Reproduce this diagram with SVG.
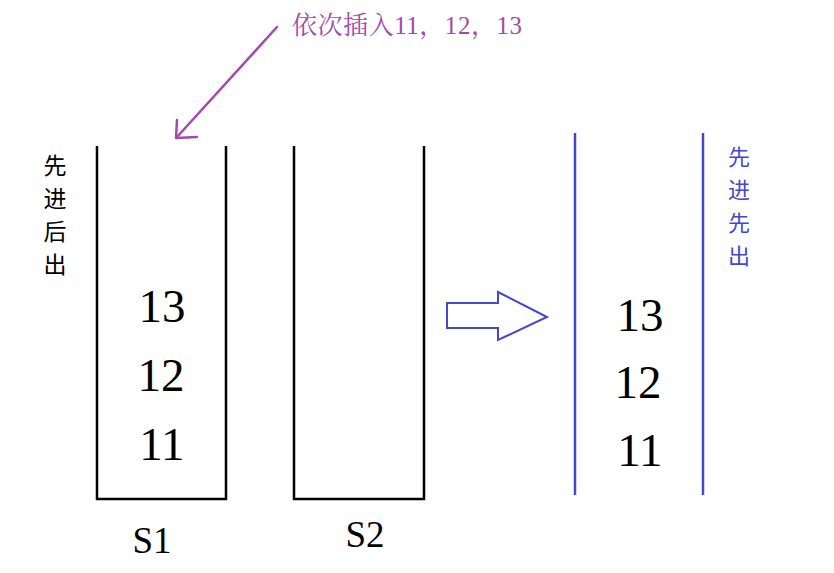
<svg xmlns="http://www.w3.org/2000/svg" width="834" height="573" viewBox="0 0 834 573">
<style>
.stack{fill:none;stroke:#000;stroke-width:2.5}
.q{stroke:#4347D2;stroke-width:2.5}
.num{font-family:"Liberation Serif",serif;font-size:47px;fill:#000;text-anchor:middle}
.lbl{font-family:"Liberation Serif",serif;font-size:37px;fill:#000;text-anchor:middle}
.cjk{font-family:"Noto Sans CJK SC",sans-serif;font-size:23px;text-anchor:middle}
.title{font-family:"Liberation Serif","Noto Serif CJK SC","Noto Sans CJK SC",serif;font-size:25px;fill:#A34AAE}
</style>
<rect width="834" height="573" fill="#fff"/>
<g id="S1">
<path class="stack" d="M97,146 V499 H226 V146"/>
<text class="num" x="162" y="322">13</text>
<text class="num" x="161" y="391">12</text>
<text class="num" x="162" y="460">11</text>
<text class="lbl" x="152" y="553">S1</text>
</g>
<g id="lifo">
<text class="cjk" x="55" y="174" fill="#000">先</text>
<text class="cjk" x="55" y="207" fill="#000">进</text>
<text class="cjk" x="55" y="240" fill="#000">后</text>
<text class="cjk" x="55" y="273" fill="#000">出</text>
</g>
<g id="S2">
<path class="stack" d="M294,146 V499 H424 V146"/>
<text class="lbl" x="365" y="547">S2</text>
</g>
<g id="queue">
<line class="q" x1="575" y1="133" x2="575" y2="495"/>
<line class="q" x1="703" y1="133" x2="703" y2="495"/>
<text class="num" x="640" y="331">13</text>
<text class="num" x="638" y="398">12</text>
<text class="num" x="640" y="466">11</text>
</g>
<g id="fifo">
<text class="cjk" x="739" y="165" fill="#4347D2" style="font-size:22px">先</text>
<text class="cjk" x="739" y="198" fill="#4347D2" style="font-size:22px">进</text>
<text class="cjk" x="739" y="231" fill="#4347D2" style="font-size:22px">先</text>
<text class="cjk" x="739" y="264" fill="#4347D2" style="font-size:22px">出</text>
</g>
<g id="title">
<text class="title" x="292" y="34" textLength="230" lengthAdjust="spacing">依次插入11，12，13</text>
</g>
<g id="connectors">
<path d="M277,27 L177,137 M177,120 L176,138 L197,137" fill="none" stroke="#A34AAE" stroke-width="2.5" stroke-linecap="round" stroke-linejoin="round"/>
<path d="M447,303 H498 V292 L547,317 L498,340 V328 H447 Z" fill="#fff" stroke="#4347D2" stroke-width="2"/>
</g>
</svg>
